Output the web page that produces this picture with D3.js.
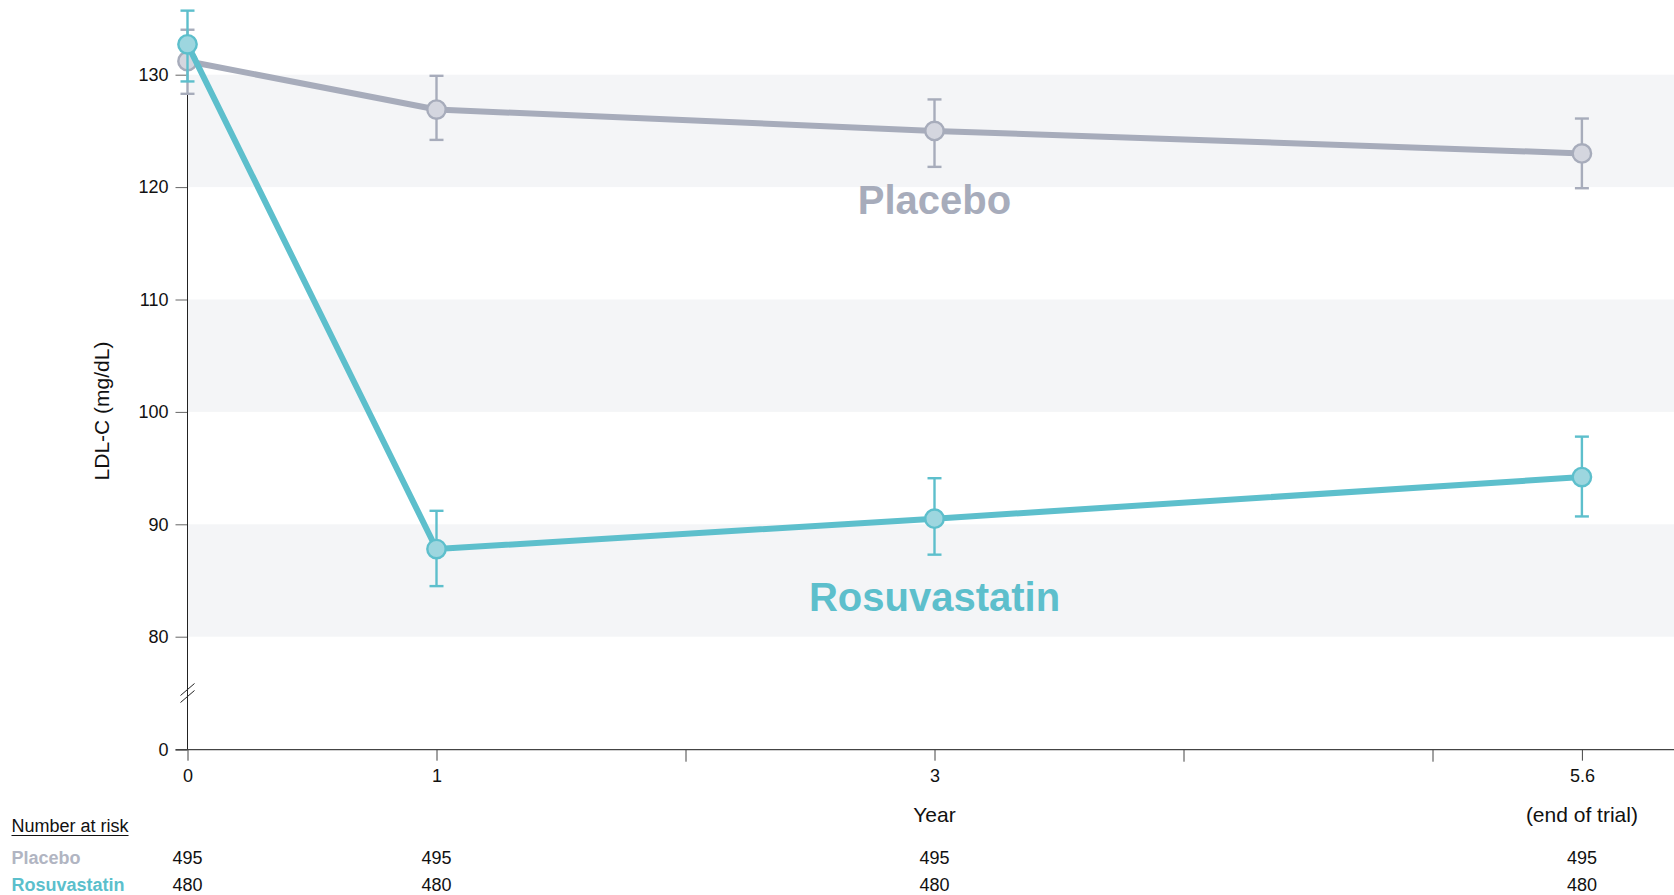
<!DOCTYPE html>
<html>
<head>
<meta charset="utf-8">
<script src="https://cdn.jsdelivr.net/npm/d3@7/dist/d3.min.js"></script>
<style>
  html, body { margin: 0; padding: 0; background: #fff; }
  svg { display: block; font-family: "Liberation Sans", Arial, Helvetica, sans-serif; }
</style>
</head>
<body>
<svg id="chart" width="1674" height="895"></svg>
<script>
// Study visits (years since randomisation)
const years = [0, 1, 3, 5.6];
const yearTickLabels = ["0", "1", "3", "5.6"];
const minorYearTicks = [2, 4, 5];

// Mean LDL-C (mg/dL) with error bar limits
const placeboMean  = [131.2, 126.9, 125.0, 123.0];
const placeboLow   = [128.3, 124.2, 121.8, 119.9];
const placeboHigh  = [134.0, 129.9, 127.8, 126.1];

const rosuvaMean   = [132.7, 87.8, 90.5, 94.2];
const rosuvaLow    = [129.4, 84.5, 87.3, 90.7];
const rosuvaHigh   = [135.7, 91.2, 94.1, 97.8];

// Y axis ticks and shaded bands
const yTicks = [0, 80, 90, 100, 110, 120, 130];
const bands = [[80, 90], [100, 110], [120, 130]];

// Number at risk
const riskPlacebo = [495, 495, 495, 495];
const riskRosuva  = [480, 480, 480, 480];

const colors = {
  placebo: { line: "#a7acbb", fill: "#d4d6df", text: "#b1b5c2" },
  rosuva:  { line: "#5dbfcc", fill: "#9dd6df", text: "#5bbfcc" }
};

const svg = d3.select("#chart");
const W = 1674;

const x = d3.scaleLinear().domain([0, 6]).range([187.5, 1681.5]);
// broken axis: 0 sits below the 80–130 section
const y = d3.scaleLinear().domain([0, 80, 130]).range([749.7, 636.7, 74.7]);

// background bands
svg.append("g").selectAll("rect").data(bands).join("rect")
  .attr("x", x(0)).attr("width", W - x(0))
  .attr("y", d => y(d[1])).attr("height", d => y(d[0]) - y(d[1]))
  .attr("fill", "#f4f5f7");

// Y axis
const yAxis = d3.axisLeft(y).tickValues(yTicks).tickSize(12).tickPadding(7).tickFormat(d3.format("d"));
const gy = svg.append("g").attr("transform", `translate(${x(0)},0)`).call(yAxis);
gy.select(".domain").remove();
gy.selectAll(".tick line").attr("stroke", "#666");
gy.selectAll(".tick text").attr("font-size", 18).attr("fill", "#111")
  .attr("font-family", "'Liberation Sans', Arial, sans-serif");
svg.append("line").attr("x1", x(0)).attr("x2", x(0))
  .attr("y1", y(130)).attr("y2", y(0)).attr("stroke", "#222").attr("stroke-width", 1);

// axis break marks
const breakY = 693;
[-3.5, 3.5].forEach(off => {
  svg.append("line")
    .attr("x1", x(0) - 7).attr("y1", breakY + off + 6)
    .attr("x2", x(0) + 7).attr("y2", breakY + off - 6)
    .attr("stroke", "#222").attr("stroke-width", 1);
});

// X axis
const xAxisMajor = d3.axisBottom(x).tickValues(years).tickSize(11).tickPadding(9)
  .tickFormat((d, i) => yearTickLabels[i]);
const gx = svg.append("g").attr("transform", `translate(0,${y(0)})`).call(xAxisMajor);
gx.select(".domain").remove();
gx.selectAll(".tick line").attr("stroke", "#444");
gx.selectAll(".tick text").attr("font-size", 18).attr("fill", "#111")
  .attr("font-family", "'Liberation Sans', Arial, sans-serif");
const gxm = svg.append("g").attr("transform", `translate(0,${y(0)})`)
  .call(d3.axisBottom(x).tickValues(minorYearTicks).tickSize(12).tickFormat(""));
gxm.select(".domain").remove();
gxm.selectAll(".tick line").attr("stroke", "#444");
svg.append("line").attr("x1", x(0) - 12).attr("x2", W)
  .attr("y1", y(0)).attr("y2", y(0)).attr("stroke", "#444").attr("stroke-width", 1.2);

// axis titles
svg.append("text").attr("transform", `translate(101.5,411) rotate(-90)`)
  .attr("text-anchor", "middle").attr("dominant-baseline", "central")
  .attr("font-size", 21).attr("fill", "#111").text("LDL-C (mg/dL)");
svg.append("text").attr("x", x(3)).attr("y", 821.5).attr("text-anchor", "middle")
  .attr("font-size", 21).attr("fill", "#111").text("Year");
svg.append("text").attr("x", x(5.6)).attr("y", 821.5).attr("text-anchor", "middle")
  .attr("font-size", 21).attr("fill", "#111").text("(end of trial)");

// series
const series = [
  { key: "placebo", name: "Placebo", mean: placeboMean, low: placeboLow, high: placeboHigh, c: colors.placebo, labelY: 214 },
  { key: "rosuva", name: "Rosuvastatin", mean: rosuvaMean, low: rosuvaLow, high: rosuvaHigh, c: colors.rosuva, labelY: 611 }
];

const line = d3.line().x(d => x(d.t)).y(d => y(d.v));

series.forEach(s => {
  const pts = years.map((t, i) => ({ t, v: s.mean[i], lo: s.low[i], hi: s.high[i] }));
  const g = svg.append("g");
  g.append("path").datum(pts).attr("d", line)
    .attr("fill", "none").attr("stroke", s.c.line).attr("stroke-width", 6)
    .attr("stroke-linejoin", "round");
  const eb = g.append("g").selectAll("g").data(pts).join("g")
    .attr("stroke", s.c.line).attr("stroke-width", 2.4);
  eb.append("line").attr("x1", d => x(d.t)).attr("x2", d => x(d.t))
    .attr("y1", d => y(d.hi)).attr("y2", d => y(d.lo));
  eb.append("line").attr("x1", d => x(d.t) - 7).attr("x2", d => x(d.t) + 7)
    .attr("y1", d => y(d.hi)).attr("y2", d => y(d.hi));
  eb.append("line").attr("x1", d => x(d.t) - 7).attr("x2", d => x(d.t) + 7)
    .attr("y1", d => y(d.lo)).attr("y2", d => y(d.lo));
  g.append("g").selectAll("circle").data(pts).join("circle")
    .attr("cx", d => x(d.t)).attr("cy", d => y(d.v)).attr("r", 9.2)
    .attr("fill", s.c.fill).attr("stroke", s.c.line).attr("stroke-width", 2.4);
  g.append("text").attr("x", x(3)).attr("y", s.labelY).attr("text-anchor", "middle")
    .attr("font-size", 40).attr("font-weight", "bold").attr("fill", s.c.line).text(s.name);
});

// Number at risk table
const nar = svg.append("text").attr("x", 11.5).attr("y", 832).attr("font-size", 18).attr("fill", "#111")
  .text("Number at risk");
const narW = nar.node().getComputedTextLength();
svg.append("line").attr("x1", 11.5).attr("x2", 11.5 + narW).attr("y1", 835.5).attr("y2", 835.5)
  .attr("stroke", "#111").attr("stroke-width", 1.2);

const rows = [
  { name: "Placebo", vals: riskPlacebo, color: colors.placebo.text, y: 864 },
  { name: "Rosuvastatin", vals: riskRosuva, color: colors.rosuva.text, y: 891 }
];
rows.forEach(r => {
  svg.append("text").attr("x", 11.5).attr("y", r.y).attr("font-size", 18)
    .attr("font-weight", "bold").attr("fill", r.color).text(r.name);
  svg.append("g").selectAll("text").data(r.vals).join("text")
    .attr("x", (d, i) => x(years[i])).attr("y", r.y).attr("text-anchor", "middle")
    .attr("font-size", 18).attr("fill", "#111").text(d => d);
});
</script>
</body>
</html>
